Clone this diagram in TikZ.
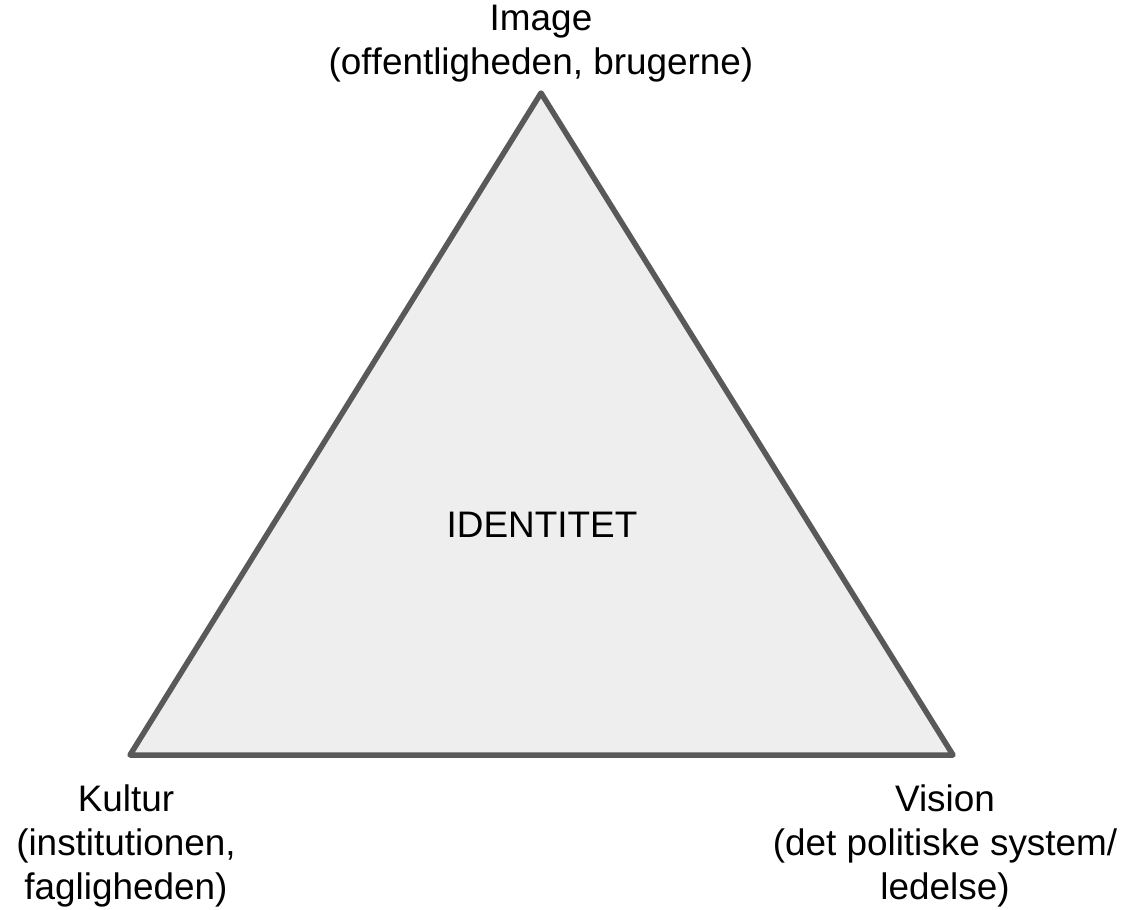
\documentclass[tikz,border=0pt]{standalone}
\usepackage{fontspec}
\setmainfont[Ligatures=NoCommon]{Liberation Sans}
\definecolor{edgegray}{HTML}{595959}
\definecolor{fillgray}{HTML}{EEEEEE}
\begin{document}
\begin{tikzpicture}[x=1pt,y=-1pt,
  lbl/.style={align=center,inner sep=0pt,font=\fontsize{36.9}{44}\selectfont},
  tri/.style={draw=edgegray,fill=fillgray,line width=5.5pt,line join=round}]
\useasboundingbox (0,0) rectangle (1128,910);
\coordinate (top) at (541,93);
\coordinate (bl) at (130,755);
\coordinate (br) at (953,755);
\draw[tri] (top) -- (bl) -- (br) -- cycle;
\node[lbl,anchor=base] (id) at (542,537) {IDENTITET};
\node[lbl,anchor=north] (img) at (541,5) {Image\\(of\kern0ptfentligheden, brugerne)};
\node[lbl,anchor=north] (kul) at (126,785) {Kultur\\(institutionen,\\fagligheden)};
\node[lbl,anchor=north] (vis) at (945,785) {Vision\\(det politiske system/\\ledelse)};
\end{tikzpicture}
\end{document}
